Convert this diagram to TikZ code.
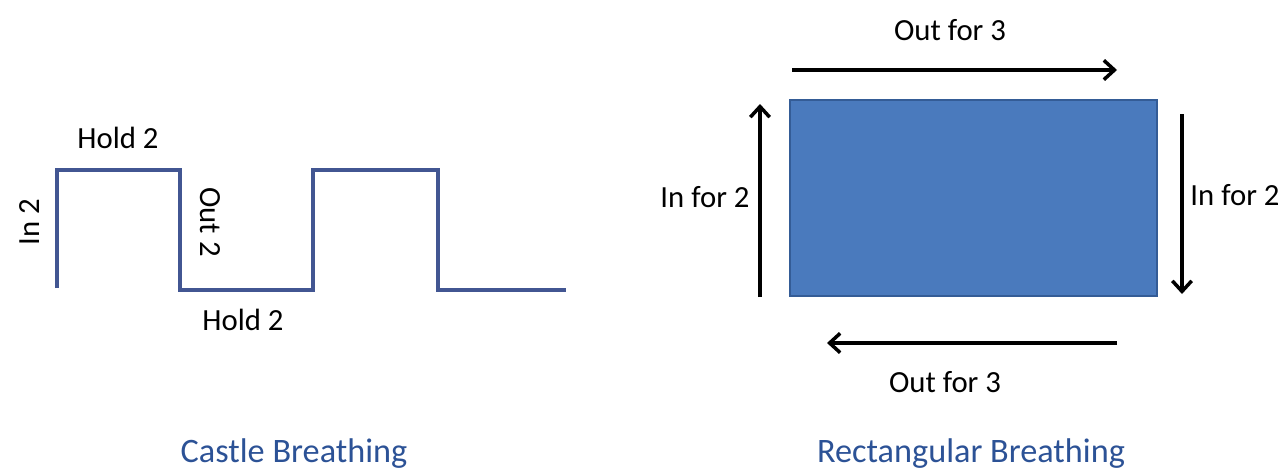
\documentclass[tikz,border=0pt]{standalone}
\usepackage{fontspec}
\setmainfont{Carlito}
\usetikzlibrary{arrows.meta, positioning}
\definecolor{waveblue}{RGB}{66,86,146}
\definecolor{boxblue}{RGB}{74,122,189}
\definecolor{boxedge}{RGB}{52,92,150}
\definecolor{titleblue}{RGB}{44,82,150}

\begin{document}
\begin{tikzpicture}[x=0.02cm,y=-0.02cm,>={Straight Barb[length=6pt,width=11pt]},
      lbl/.style={font=\fontsize{17.5}{20}\selectfont},
      heading/.style={font=\fontsize{19.5}{22}\selectfont,text=titleblue},
      wave/.style={draw=waveblue,line width=2.3pt},
      flow/.style={->,line width=2pt},
      box/.style={draw=boxedge,fill=boxblue,line width=1.2pt,minimum width=7.34cm,minimum height=3.92cm}]
  \useasboundingbox (0,0) rectangle (1281,470);
  % castle
  \draw[wave] (57,288) -- (57,170) -- (180,170) -- (180,290) -- (313,290)
        -- (313,170) -- (438,170) -- (438,290) -- (566,290);
  \node[lbl] (hold_top) at (118,138) {Hold 2};
  \node[lbl,rotate=90] (in_c) at (30,222) {In 2};
  \node[lbl,rotate=-90] (out_c) at (210,222) {Out 2};
  \node[lbl] (hold_bot) at (243,320) {Hold 2};
  \node[heading] (castle) at (294,454) {Castle Breathing};
  % rectangle
  \node[box] (rect) at (973.5,198) {};
  \coordinate (t_a) at (792,70);   \coordinate (t_b) at (1117,70);
  \coordinate (l_a) at (760,297);  \coordinate (l_b) at (760,104);
  \coordinate (r_a) at (1182,114); \coordinate (r_b) at (1182,294);
  \coordinate (b_a) at (1117,343); \coordinate (b_b) at (827,343);
  \draw[flow] (t_a) -- (t_b);
  \draw[flow] (l_a) -- (l_b);
  \draw[flow] (r_a) -- (r_b);
  \draw[flow] (b_a) -- (b_b);
  \node[lbl] (out_t) at (950,30) {Out for 3};
  \node[lbl] (in_l) at (705,197) {In for 2};
  \node[lbl] (in_r) at (1235,195) {In for 2};
  \node[lbl] (out_b) at (945,382) {Out for 3};
  \node[heading] (rect_t) at (971,454) {Rectangular Breathing};
\end{tikzpicture}
\end{document}
